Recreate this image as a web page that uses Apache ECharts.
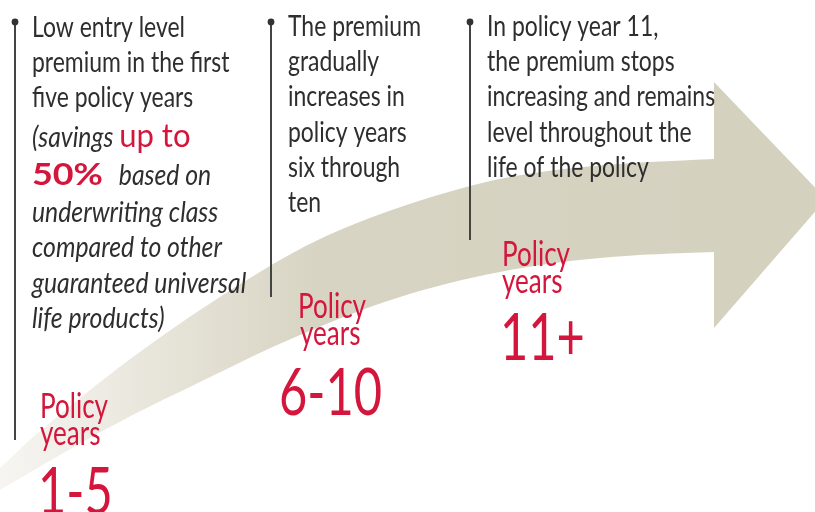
<!DOCTYPE html>
<html>
<head>
<meta charset="utf-8">
<script src="https://cdn.jsdelivr.net/npm/echarts@6.0.0/dist/echarts.min.js"></script>
<style>
html,body{margin:0;padding:0;background:#fff;}
#chart{width:815px;height:512px;}
</style>
</head>
<body>
<div id="chart"></div>
<script>
// ---- content ----
const col1Lines = [
  [['Low entry level', 'body']],
  [['premium in the first', 'body']],
  [['five policy years', 'body']],
  [['(savings ', 'it'], ['up to', 'redBig']],
  [['50%', 'redBold'], [' based on', 'it']],
  [['underwriting class', 'it']],
  [['compared to other', 'it']],
  [['guaranteed universal', 'it']],
  [['life products)', 'it']]
];
const col2Lines = ['The premium', 'gradually', 'increases in', 'policy years', 'six through', 'ten'];
const col3Lines = ['In policy year 11,', 'the premium stops', 'increasing and remains', 'level throughout the', 'life of the policy'];
const stageWord1 = ['Policy', 'Policy', 'Policy'];
const stageWord2 = ['years', 'years', 'years'];
const stageRanges = ['1-5', '6-10', '11+'];

// ---- layout / style ----
const RED = '#d4163c';
const DARK = '#2e2e2e';
const BAND = '#d5d1bf';
const FAM = 'Lato, "Open Sans", sans-serif';
const mctx = document.createElement('canvas').getContext('2d');
function mw(t, f){ mctx.font = f; return mctx.measureText(t).width; }

const bodyFs = 29;
const fonts = {
  body: {font: bodyFs + 'px ' + FAM, fill: DARK, fs: bodyFs, k: 1, gap: 0},
  it: {font: 'italic ' + bodyFs + 'px ' + FAM, fill: DARK, fs: bodyFs, k: 1.08, gap: 0},
  redBig: {font: '33px ' + FAM, fill: RED, fs: 33, k: 1.19, gap: 0},
  redBold: {font: 'bold 31px ' + FAM, fill: RED, fs: 31, k: 1, gap: 10}
};
const sx = 153 / mw('Low entry level', fonts.body.font);
fonts.redBold.k = 71 / (mw('50%', fonts.redBold.font) * sx);

const elements = [];

// arrow shaft (curved band) and head
const shaftTop = [[-30,492],[0,468],[33,437],[133,357],[250,278],[340,230],[470,186],[573,168],[714,159],[760,159]];
const shaftBot = [[760,252],[714,252],[600,258],[500,272],[400,297],[300,335],[200,382],[110,427],[0,490],[-30,508]];
elements.push({
  type: 'polygon', z: 1,
  shape: {points: shaftTop.concat(shaftBot), smooth: 0.35},
  style: {fill: {type: 'linear', x: 0, y: 0, x2: 1, y2: 0, colorStops: [
    {offset: 0, color: '#f9f8f5'},
    {offset: 0.12, color: '#f1efe9'},
    {offset: 0.28, color: '#e4e1d5'},
    {offset: 0.44, color: '#d8d4c3'},
    {offset: 1, color: BAND}
  ]}}
});
elements.push({
  type: 'polygon', z: 2,
  shape: {points: [[714,82],[826,199],[714,328]]},
  style: {fill: BAND}
});

// vertical leader lines
const leaders = [[15, 440], [271, 297], [470, 240]];
leaders.forEach(([x, yb]) => {
  elements.push({type: 'line', z: 3, shape: {x1: x, y1: 22, x2: x, y2: yb}, style: {stroke: '#444', lineWidth: 2}});
  elements.push({type: 'circle', z: 3, shape: {cx: x, cy: 22, r: 3.4}, style: {fill: '#333'}});
});

function addText(txt, f, x, baseline, scale){
  elements.push({
    type: 'text', z: 5, x: x, y: baseline - 0.33 * f.fs, scaleX: scale,
    style: {text: txt, font: f.font, fill: f.fill, verticalAlign: 'middle', align: 'left'}
  });
  return mw(txt, f.font) * scale;
}

// column 1
const col1Base = [37, 72, 107, 147, 185, 222, 257, 293, 328];
col1Lines.forEach((segs, i) => {
  let x = 32;
  segs.forEach(([t, k]) => { x += addText(t, fonts[k], x, col1Base[i], sx * fonts[k].k) + fonts[k].gap; });
});
// column 2, 3
col2Lines.forEach((t, i) => addText(t, fonts.body, 288, 36 + 35.3 * i, sx));
col3Lines.forEach((t, i) => addText(t, fonts.body, 487, 36 + 35.3 * i, sx));

// stage labels
const wFs = 34, nFs = 66;
const wFont = {font: wFs + 'px ' + FAM, fill: RED, fs: wFs};
const nFont = {font: nFs + 'px ' + FAM, fill: RED, fs: nFs};
const sxW = 68 / mw('Policy', wFont.font);
const sxN = 103 / mw('6-10', nFont.font);
const stagePos = [
  {x1: 40, x2: 40, x3: 38, b1: 418, b2: 445, b3: 514},
  {x1: 298, x2: 300, x3: 279, b1: 318, b2: 345, b3: 415},
  {x1: 502, x2: 502, x3: 500, b1: 266, b2: 293, b3: 360}
];
stageRanges.forEach((r, i) => {
  const p = stagePos[i];
  addText(stageWord1[i], wFont, p.x1, p.b1, sxW);
  addText(stageWord2[i], wFont, p.x2, p.b2, sxW);
  addText(r, nFont, p.x3, p.b3, sxN);
});

const chart = echarts.init(document.getElementById('chart'));
chart.setOption({
  backgroundColor: '#fff',
  animation: false,
  graphic: {elements: elements}
});
</script>
</body>
</html>
